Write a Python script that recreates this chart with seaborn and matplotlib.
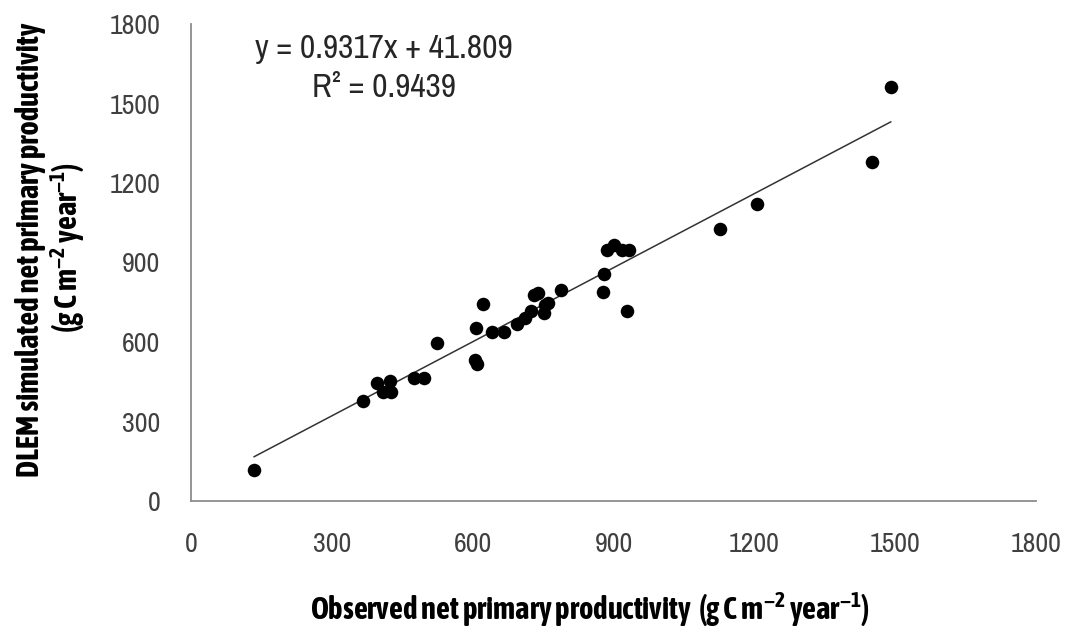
import matplotlib
matplotlib.use("Agg")
import matplotlib.pyplot as plt
from matplotlib import font_manager
import numpy as np
import pandas as pd
import seaborn as sns

# ---- data ----
observed = [134, 366, 396, 424, 408, 425, 474, 496, 523, 607, 605, 609, 623,
            642, 667, 694, 712, 724, 731, 740, 754, 761, 751, 788, 880, 877,
            886, 901, 918, 934, 928, 1127, 1205, 1450, 1491]
simulated = [117, 377, 444, 454, 412, 410, 465, 463, 595, 652, 532, 516, 742,
             637, 637, 667, 692, 718, 777, 786, 740, 746, 708, 796, 855, 790,
             947, 966, 947, 947, 718, 1025, 1120, 1280, 1563]
slope = 0.9317
intercept = 41.809
r_squared = 0.9439
ticks = [0, 300, 600, 900, 1200, 1500, 1800]

df = pd.DataFrame({"observed": observed, "simulated": simulated})

sns.set_theme(style="white")
entries = font_manager.fontManager.ttflist
names = sorted({f.name for f in entries})


def is_narrow(n):
    return "Narrow" in n or "Condensed" in n


def has_bold(n):
    for f in entries:
        if f.name == n:
            w = f.weight
            if isinstance(w, str):
                if w in ("bold", "heavy", "extra bold", "black", "semibold", "demibold"):
                    return True
            elif w >= 600:
                return True
    return False


narrow_names = [n for n in names if is_narrow(n)]
if "Liberation Sans Narrow" in names:
    narrow_names = ["Liberation Sans Narrow"] + narrow_names
base = narrow_names[0] if narrow_names else "Liberation Sans"
bold_narrow = [n for n in narrow_names if has_bold(n)]
if bold_narrow:
    bold_font = bold_narrow[0]
    lab_size = 22
else:
    bold_font = "Liberation Sans"
    lab_size = 16.5

plt.rcParams["font.family"] = [base, "DejaVu Sans"]
plt.rcParams["mathtext.fontset"] = "custom"
plt.rcParams["mathtext.rm"] = bold_font
plt.rcParams["mathtext.bf"] = bold_font + ":bold"

tick_size = 20 if narrow_names else 17.5
eq_size = 24 if narrow_names else 20

fig = plt.figure(figsize=(10.70, 6.28), dpi=100)
ax = fig.add_axes([191 / 1070, 1 - 501 / 628, (1036 - 191) / 1070, (501 - 24) / 628])

sns.scatterplot(data=df, x="observed", y="simulated", ax=ax, color="black",
                s=95, edgecolor="black", linewidth=0, zorder=3)

xs = np.array([min(observed), max(observed)])
ax.plot(xs, slope * xs + intercept, color="#333333", linewidth=1.1, zorder=2)

ax.set_xlim(0, 1800)
ax.set_ylim(0, 1800)
ax.set_xticks(ticks)
ax.set_yticks(ticks)
ax.set_xticklabels([str(t) for t in ticks])
ax.set_yticklabels([str(t) for t in ticks])

for side in ["top", "right"]:
    ax.spines[side].set_visible(False)
for side in ["left", "bottom"]:
    ax.spines[side].set_color("#8c8c8c")
    ax.spines[side].set_linewidth(1.3)

ax.tick_params(axis="both", direction="out", length=8, width=1.2, color="#8c8c8c",
               labelsize=tick_size, labelcolor="#404040")
ax.tick_params(axis="x", pad=14)
ax.tick_params(axis="y", pad=14)
ax.set_xlabel("")
ax.set_ylabel("")

lab_kw = dict(fontsize=lab_size, fontweight="bold", color="black",
              family=[bold_font, "DejaVu Sans"])
fig.text(590 / 1070, 1 - 610 / 628,
         r"Observed net primary productivity  (g C m$^{\mathbf{-2}}$ year$^{\mathbf{-1}}$)",
         ha="center", va="center", **lab_kw)
fig.text(31 / 1070, 1 - 250 / 628, "DLEM simulated net primary productivity",
         ha="center", va="center", rotation=90, **lab_kw)
fig.text(68 / 1070, 1 - 248 / 628,
         r"(g C m$^{\mathbf{-2}}$ year$^{\mathbf{-1}}$)",
         ha="center", va="center", rotation=90, **lab_kw)

ax.text(0.228, 0.978, f"y = {slope}x + {intercept}\nR\u00b2 = {r_squared}",
        transform=ax.transAxes, ha="center", va="top", fontsize=eq_size,
        color="#262626", linespacing=1.35, multialignment="center")

fig.savefig("out.png", dpi=100)
